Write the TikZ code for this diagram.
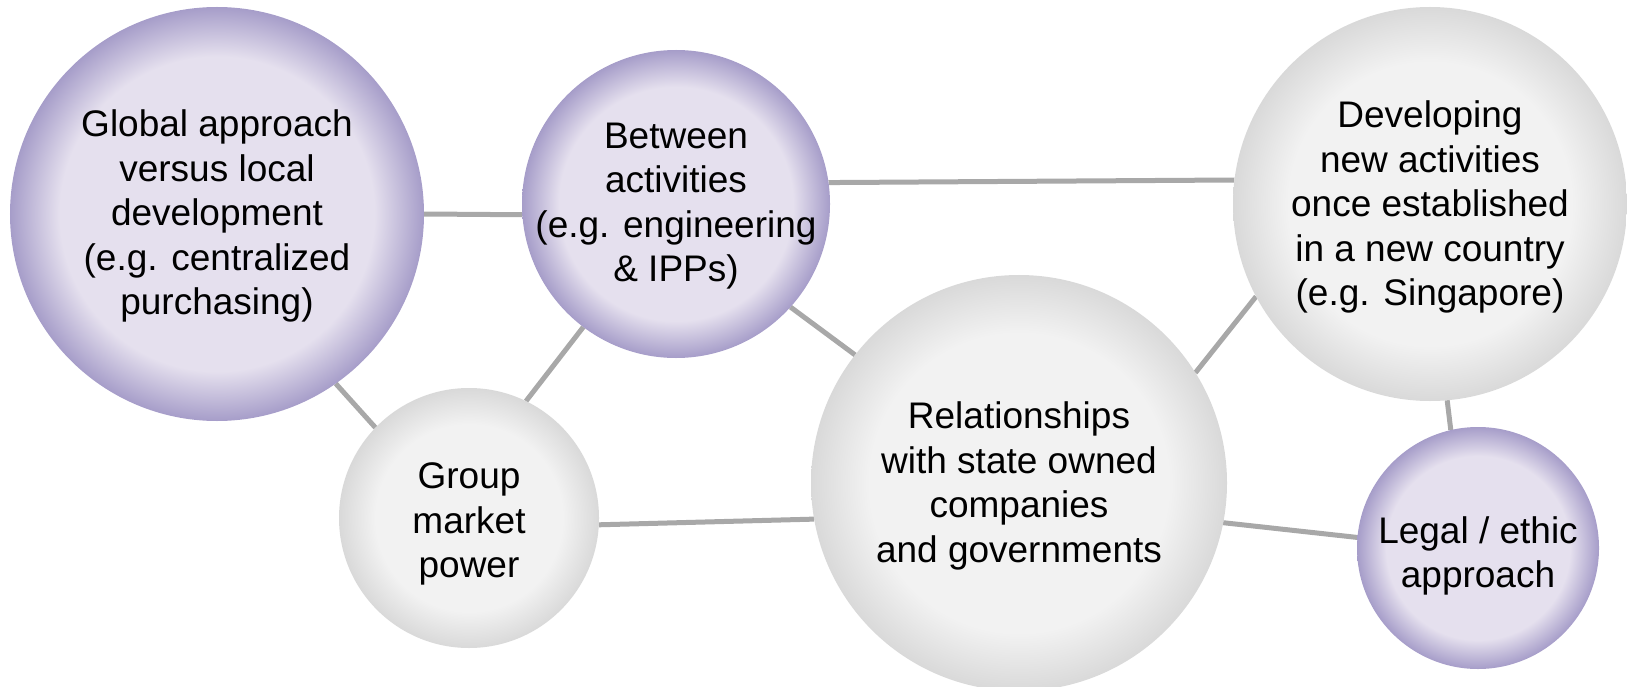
\documentclass[tikz,border=0pt]{standalone}
\usepackage{fontspec}
\setmainfont{Liberation Sans}
\usetikzlibrary{backgrounds}
\definecolor{pin}{HTML}{E5E0EE}
\definecolor{pout}{HTML}{A69DC9}
\definecolor{gin}{HTML}{F2F2F2}
\definecolor{gout}{HTML}{D9D9D9}
\definecolor{linkgray}{HTML}{A8A8A8}
\pgfdeclareradialshading{purpball}{\pgfpointorigin}{color(0bp)=(pin); color(19bp)=(pin); color(25bp)=(pout); color(50bp)=(pout)}
\pgfdeclareradialshading{grayball}{\pgfpointorigin}{color(0bp)=(gin); color(18bp)=(gin); color(25bp)=(gout); color(50bp)=(gout)}
\tikzset{
  ball/.style={circle, inner sep=0pt, outer sep=0pt, minimum size=#1},
  purp/.style={ball=#1, shading=purpball},
  grey/.style={ball=#1, shading=grayball},
  txt/.style={align=center, font=\fontsize{37bp}{44.5bp}\selectfont, inner sep=0pt},
  link/.style={draw=linkgray, line width=5bp}
}
\begin{document}
\begin{tikzpicture}[x=1bp, y=-1bp]
\useasboundingbox (0,0) rectangle (1627,687);
\node[purp=414bp] (c1) at (217,214) {};
\node[purp=308bp] (c2) at (676,204) {};
\node[grey=394bp] (c3) at (1430,204) {};
\node[grey=260bp] (c4) at (469,518) {};
\node[grey=416bp] (c5) at (1019,483) {};
\node[purp=242bp] (c6) at (1478,548) {};
\node[txt] (t1) at ([yshift=-2bp]c1) {Global approach\\versus local\\development\\(e.g. centralized\\purchasing)};
\node[txt] (t2) at ([yshift=-2bp]c2) {Between\\activities\\(e.g. engineering\\\& IPPs)};
\node[txt] (t3) at ([yshift=-3bp]c3) {Developing\\new activities\\once established\\in a new country\\(e.g. Singapore)};
\node[txt] (t4) at ([yshift=-6bp]c4) {Group\\market\\power};
\node[txt] (t5) at ([yshift=-3bp]c5) {Relationships\\with state owned\\companies\\and governments};
\node[txt] (t6) at ([yshift=-8bp]c6) {Legal / ethic\\approach};
\begin{scope}[on background layer]
\draw[link] (c1.0) -- (c2.184);
\draw[link] (c2.8) -- (c3.173);
\draw[link] (c2.-42) -- (c5.142);
\draw[link] (c2.233) -- (c4.64);
\draw[link] (c1.-55) -- (c4.136);
\draw[link] (c4.-3) -- (c5.190);
\draw[link] (c5.32) -- (c3.208);
\draw[link] (c3.-85) -- (c6.103);
\draw[link] (c5.-11) -- (c6.175);
\end{scope}
\end{tikzpicture}
\end{document}
